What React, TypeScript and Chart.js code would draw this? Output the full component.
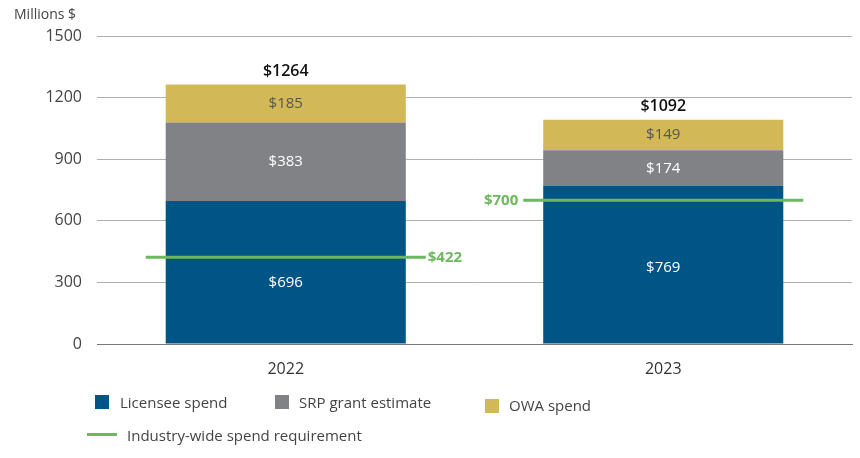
import React, { useEffect, useRef } from "react";
import { Chart, registerables } from "chart.js";

Chart.register(...registerables);

const categories = ["2022", "2023"];
const licenseeSpend = [696, 769];
const srpGrant = [383, 174];
const owaSpend = [185, 149];
const totals = [1264, 1092];
const requirement = [422, 700];
const yTicks = [0, 300, 600, 900, 1200, 1500];

const BLUE = "#005587";
const GRAY = "#818286";
const GOLD = "#D2B857";
const GREEN = "#6CB85C";
const FONT = "'Open Sans', 'Noto Sans', sans-serif";

const overlayPlugin = {
  id: "overlay",
  afterDatasetsDraw(chart: any) {
    const ctx = chart.ctx;
    const x = chart.scales.x;
    const y = chart.scales.y;
    ctx.save();
    const textColors = [["#fff", "#fff"], ["#fff", "#fff"], ["#555", "#555"]];
    const labelShift = [[10, 3], [0, 0], [0, 0]];
    chart.data.datasets.forEach((ds: any, di: number) => {
      const meta = chart.getDatasetMeta(di);
      meta.data.forEach((bar: any, i: number) => {
        const v = ds.data[i];
        const cy = (bar.y + bar.base) / 2 + labelShift[di][i];
        ctx.font = `15px ${FONT}`;
        ctx.fillStyle = textColors[di][i];
        ctx.textAlign = "center";
        ctx.textBaseline = "middle";
        ctx.fillText("$" + v, bar.x, cy);
      });
    });
    const topMeta = chart.getDatasetMeta(2);
    topMeta.data.forEach((bar: any, i: number) => {
      ctx.font = `600 16px ${FONT}`;
      ctx.fillStyle = "#111";
      ctx.textAlign = "center";
      ctx.textBaseline = "bottom";
      ctx.fillText("$" + totals[i], bar.x, bar.y - 5);
    });
    const m0 = chart.getDatasetMeta(0);
    requirement.forEach((r, i) => {
      const bar: any = m0.data[i];
      const half = bar.width / 2 + 20;
      const py = y.getPixelForValue(r);
      const cx = x.getPixelForValue(i);
      ctx.strokeStyle = GREEN;
      ctx.lineWidth = 3;
      ctx.beginPath();
      ctx.moveTo(cx - half, py);
      ctx.lineTo(cx + half, py);
      ctx.stroke();
      ctx.font = `bold 15px ${FONT}`;
      ctx.fillStyle = GREEN;
      ctx.textBaseline = "middle";
      if (i === 0) {
        ctx.textAlign = "left";
        ctx.fillText("$" + r, cx + half + 2, py);
      } else {
        ctx.textAlign = "right";
        ctx.fillText("$" + r, cx - half - 5, py);
      }
    });
    ctx.restore();
  },
};

export default function App() {
  const ref = useRef<HTMLCanvasElement>(null);
  useEffect(() => {
    const chart = new Chart(ref.current!, {
      type: "bar",
      data: {
        labels: categories,
        datasets: [
          { label: "Licensee spend", data: licenseeSpend, backgroundColor: BLUE },
          { label: "SRP grant estimate", data: srpGrant, backgroundColor: GRAY },
          { label: "OWA spend", data: owaSpend, backgroundColor: GOLD },
        ],
      },
      options: {
        responsive: false,
        animation: false,
        layout: { padding: { top: 36, right: 8, left: 0, bottom: 0 } },
        datasets: { bar: { barPercentage: 1, categoryPercentage: 0.636 } },
        plugins: { legend: { display: false }, tooltip: { enabled: false } },
        scales: {
          x: {
            stacked: true,
            grid: { display: false },
            border: { color: "#777", width: 1 },
            ticks: { color: "#333", font: { family: FONT, size: 16 }, padding: 8 },
            afterFit: (s: any) => { s.height = 114; },
          },
          y: {
            stacked: true,
            min: 0,
            max: 1500,
            afterBuildTicks: (s: any) => { s.ticks = yTicks.map((v) => ({ value: v })); },
            grid: { color: "#b0b0b0", drawTicks: false },
            border: { display: false },
            ticks: {
              color: "#444",
              font: { family: FONT, size: 16 },
              padding: 15,
              callback: (v: any) => String(v),
            },
            afterFit: (s: any) => { s.width = 97; },
          },
        },
      },
      plugins: [overlayPlugin],
    });
    return () => chart.destroy();
  }, []);

  const legendText: React.CSSProperties = {
    position: "absolute",
    fontFamily: FONT,
    fontSize: 15,
    color: "#444",
    lineHeight: "20px",
    whiteSpace: "nowrap",
  };
  const sq = (left: number, top: number, color: string): React.CSSProperties => ({
    position: "absolute", left, top, width: 14, height: 14, background: color,
  });

  return (
    <div style={{ position: "absolute", left: 0, top: 0, width: 860, height: 458, background: "#fff" }}>
      <canvas ref={ref} width={860} height={458} style={{ position: "absolute", left: 0, top: 0 }} />
      <div style={{ ...legendText, left: 14, top: 4, fontSize: 14, color: "#444" }}>Millions $</div>
      <div style={sq(95, 395, BLUE)} />
      <div style={{ ...legendText, left: 120, top: 392 }}>Licensee spend</div>
      <div style={sq(275, 395, GRAY)} />
      <div style={{ ...legendText, left: 299, top: 392 }}>SRP grant estimate</div>
      <div style={sq(485, 399, GOLD)} />
      <div style={{ ...legendText, left: 509, top: 395 }}>OWA spend</div>
      <div style={{ position: "absolute", left: 87, top: 433, width: 30, height: 3, background: GREEN }} />
      <div style={{ ...legendText, left: 127, top: 425 }}>Industry-wide spend requirement</div>
    </div>
  );
}
